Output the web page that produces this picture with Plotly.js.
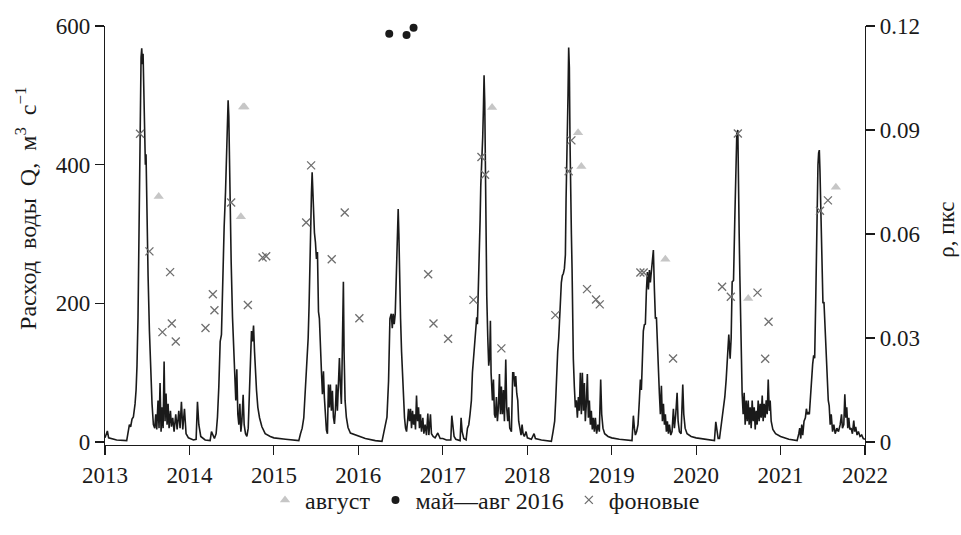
<!DOCTYPE html>
<html>
<head>
<meta charset="utf-8">
<script src="https://cdn.plot.ly/plotly-3.0.1.min.js"></script>
<style>html,body{margin:0;padding:0;background:#fff;}#chart{width:961px;height:535px;}</style>
</head>
<body>
<div id="chart"></div>
<script>
// ---- Discharge Q (m3/s): decimal year / value ----
const qYear = [
2013.000,2013.028,2013.043,2013.138,2013.257,2013.277,2013.289,2013.304,2013.320,2013.336,2013.356,2013.368,2013.379,2013.391,2013.403,2013.411,2013.419,2013.427,2013.435,2013.443,2013.451,2013.458,2013.470,2013.478,2013.486,2013.494,2013.510,2013.526,2013.542,2013.557,2013.573,2013.589,2013.601,2013.613,2013.628,2013.640,2013.652,2013.664,2013.676,2013.688,2013.700,2013.711,2013.723,2013.735,2013.747,2013.759,2013.775,2013.787,2013.802,2013.818,2013.838,2013.854,2013.874,2013.889,2013.905,2013.921,2013.941,2013.960,2013.988,
2014.047,2014.079,2014.095,2014.111,2014.134,2014.186,2014.245,2014.261,2014.277,2014.296,2014.316,2014.332,2014.348,2014.364,2014.379,2014.395,2014.411,2014.427,2014.439,2014.451,2014.458,2014.466,2014.474,2014.482,2014.494,2014.510,2014.526,2014.538,2014.549,2014.561,2014.573,2014.585,2014.597,2014.609,2014.621,2014.636,2014.648,2014.664,2014.680,2014.696,2014.711,2014.723,2014.735,2014.747,2014.759,2014.771,2014.783,2014.794,2014.810,2014.830,2014.858,2014.897,2014.957,2014.996,
2015.000,2015.138,2015.295,2015.315,2015.335,2015.354,2015.374,2015.390,2015.406,2015.417,2015.425,2015.437,2015.445,2015.453,2015.461,2015.469,2015.480,2015.492,2015.504,2015.516,2015.528,2015.539,2015.551,2015.563,2015.575,2015.587,2015.598,2015.610,2015.622,2015.634,2015.646,2015.657,2015.669,2015.681,2015.693,2015.705,2015.717,2015.728,2015.740,2015.752,2015.764,2015.776,2015.787,2015.799,2015.807,2015.815,2015.823,2015.831,2015.843,2015.858,2015.878,2015.906,2015.965,
2016.083,2016.201,2016.280,2016.299,2016.319,2016.339,2016.358,2016.374,2016.390,2016.402,2016.413,2016.425,2016.437,2016.449,2016.461,2016.472,2016.480,2016.488,2016.500,2016.512,2016.524,2016.535,2016.547,2016.559,2016.571,2016.583,2016.594,2016.606,2016.618,2016.630,2016.642,2016.654,2016.665,2016.677,2016.689,2016.701,2016.713,2016.724,2016.736,2016.748,2016.764,2016.776,2016.791,2016.807,2016.823,2016.835,2016.854,2016.866,2016.886,2016.909,2016.941,2016.969,
2017.000,2017.043,2017.095,2017.107,2017.118,2017.134,2017.154,2017.205,2017.217,2017.229,2017.249,2017.276,2017.292,2017.308,2017.323,2017.339,2017.351,2017.367,2017.379,2017.391,2017.402,2017.410,2017.418,2017.430,2017.442,2017.450,2017.462,2017.473,2017.481,2017.489,2017.497,2017.505,2017.513,2017.521,2017.533,2017.544,2017.556,2017.564,2017.572,2017.588,2017.600,2017.612,2017.623,2017.635,2017.647,2017.659,2017.671,2017.683,2017.694,2017.706,2017.718,2017.730,2017.746,2017.757,2017.769,2017.781,2017.793,2017.813,2017.828,2017.840,2017.852,2017.864,2017.876,2017.888,2017.899,2017.911,2017.927,2017.939,2017.951,2017.966,2017.986,
2018.002,2018.049,2018.081,2018.097,2018.168,2018.286,2018.306,2018.325,2018.337,2018.349,2018.361,2018.373,2018.381,2018.392,2018.404,2018.416,2018.428,2018.440,2018.452,2018.460,2018.467,2018.475,2018.483,2018.491,2018.499,2018.507,2018.515,2018.523,2018.531,2018.538,2018.546,2018.558,2018.570,2018.582,2018.594,2018.606,2018.617,2018.629,2018.641,2018.653,2018.665,2018.677,2018.688,2018.700,2018.712,2018.724,2018.736,2018.748,2018.759,2018.771,2018.783,2018.795,2018.807,2018.822,2018.838,2018.854,2018.870,2018.882,2018.897,2018.917,2018.957,
2019.000,2019.091,2019.241,2019.257,2019.269,2019.281,2019.296,2019.312,2019.328,2019.340,2019.352,2019.364,2019.375,2019.387,2019.399,2019.411,2019.423,2019.435,2019.447,2019.458,2019.470,2019.482,2019.494,2019.506,2019.518,2019.530,2019.542,2019.553,2019.565,2019.577,2019.589,2019.601,2019.613,2019.625,2019.636,2019.648,2019.660,2019.672,2019.684,2019.700,2019.715,2019.731,2019.743,2019.759,2019.775,2019.787,2019.802,2019.822,2019.842,2019.854,2019.870,2019.893,2019.941,
2020.000,2020.119,2020.217,2020.233,2020.245,2020.261,2020.277,2020.292,2020.308,2020.324,2020.340,2020.356,2020.372,2020.387,2020.403,2020.415,2020.427,2020.443,2020.458,2020.470,2020.482,2020.494,2020.502,2020.510,2020.518,2020.526,2020.534,2020.545,2020.557,2020.569,2020.581,2020.593,2020.605,2020.617,2020.628,2020.640,2020.652,2020.664,2020.676,2020.688,2020.700,2020.711,2020.723,2020.735,2020.747,2020.759,2020.771,2020.783,2020.794,2020.806,2020.818,2020.830,2020.842,2020.854,2020.866,2020.877,2020.889,2020.909,2020.941,2020.988,
2021.000,2021.098,2021.196,2021.216,2021.227,2021.239,2021.251,2021.263,2021.278,2021.294,2021.306,2021.318,2021.329,2021.341,2021.353,2021.365,2021.380,2021.392,2021.404,2021.416,2021.427,2021.435,2021.443,2021.451,2021.459,2021.467,2021.475,2021.482,2021.490,2021.502,2021.514,2021.529,2021.541,2021.553,2021.565,2021.576,2021.588,2021.600,2021.616,2021.631,2021.647,2021.667,2021.686,2021.706,2021.722,2021.733,2021.749,2021.761,2021.773,2021.784,2021.796,2021.808,2021.820,2021.835,2021.851,2021.867,2021.878,2021.890,2021.906,2021.922,2021.941,2021.961,2021.980,2022.000
];
const qValue = [
6,16,6,3,2,15,25,22,33,36,55,75,110,180,320,450,530,555,568,545,560,520,460,400,415,330,240,160,95,55,25,20,40,18,60,20,85,15,50,20,116,30,70,25,55,20,45,22,35,15,40,18,45,20,58,18,48,12,6,
3,4,58,25,8,3,2,15,10,5,12,36,80,145,155,240,310,360,430,480,493,470,400,330,260,180,130,100,60,105,40,25,55,15,30,68,25,12,8,20,70,110,160,145,168,130,90,75,50,35,22,12,8,6,
6,4,2,12,20,35,80,110,150,198,255,312,360,389,360,312,302,288,264,274,188,178,150,102,69,102,64,36,17,12,83,50,83,45,74,36,26,45,83,45,93,121,83,55,107,226,231,131,60,36,21,13,10,
5,2,1,12,25,36,88,178,185,164,185,170,185,230,290,336,300,220,178,130,93,55,35,20,15,30,48,30,48,20,45,25,40,18,67,30,50,20,40,15,35,12,25,10,41,10,40,12,8,6,13,5,
5,3,3,38,20,8,4,2,35,15,5,3,20,25,40,60,100,125,150,160,180,170,200,260,320,370,400,440,480,529,490,380,280,210,150,110,125,175,100,60,90,40,35,65,30,50,98,40,80,40,75,30,119,50,30,50,20,15,100,100,80,95,70,60,30,18,10,25,12,8,15,
6,4,12,5,3,1,15,30,60,110,131,150,175,200,230,240,243,250,270,350,420,450,500,569,540,430,330,300,250,180,120,80,50,60,35,65,45,100,40,100,45,85,30,55,98,35,60,25,45,18,35,15,35,12,25,15,90,40,20,12,8,
6,4,2,38,20,10,15,25,60,90,75,110,160,169,170,217,245,220,248,230,250,265,277,220,178,180,130,100,70,40,81,30,55,25,40,15,30,12,25,10,15,48,20,40,71,30,15,12,83,40,20,12,8,
6,4,2,29,15,5,5,20,36,45,65,90,121,155,120,150,231,233,321,417,445,450,400,300,240,170,110,70,40,71,25,60,30,60,25,50,20,60,30,50,18,45,25,60,30,55,35,67,30,55,35,60,40,90,45,60,30,18,12,8,
8,4,2,12,20,5,25,10,30,35,48,40,42,40,64,90,112,125,121,200,300,370,400,417,421,390,340,300,250,200,202,155,120,95,60,52,25,40,15,25,12,20,15,25,40,20,25,69,35,50,20,35,18,20,12,31,15,22,10,15,8,10,5,4
];

// ---- Rho (пкс) samples ----
const augYear = [2013.636,2014.609,2014.636,2014.652,2017.584,2018.602,2018.641,2019.636,2020.617,2021.655];
const augRho  = [0.0708,0.0650,0.0966,0.0966,0.0965,0.0892,0.0795,0.0527,0.0414,0.0735];

const may16Year = [2016.366,2016.571,2016.654];
const may16Rho  = [0.1178,0.1174,0.1195];

const bgYear = [2013.415,2013.526,2013.680,2013.771,2013.791,2013.838,2014.190,2014.277,2014.296,2014.494,2014.692,2014.866,2014.909,
  2015.382,2015.441,2015.685,2015.839,2016.012,2016.827,2016.890,
  2017.063,2017.363,2017.458,2017.501,2017.694,2018.333,2018.491,2018.523,2018.708,2018.815,2018.859,
  2019.340,2019.379,2019.727,2020.308,2020.411,2020.494,2020.727,2020.818,2020.858,
  2021.467,2021.561];
const bgRho  = [0.0889,0.0550,0.0317,0.0490,0.0342,0.0290,0.0329,0.0426,0.0380,0.0691,0.0395,0.0532,0.0536,
  0.0633,0.0798,0.0527,0.0662,0.0357,0.0484,0.0342,
  0.0298,0.0410,0.0822,0.0771,0.0270,0.0366,0.0781,0.0870,0.0441,0.0411,0.0397,
  0.0489,0.0489,0.0241,0.0448,0.0419,0.0890,0.0431,0.0240,0.0347,
  0.0667,0.0697];

// ---- Tick labels ----
const yearTicks = [2013,2014,2015,2016,2017,2018,2019,2020,2021,2022];
const qTicks = [0,200,400,600];
const rhoTicks = [0,0.03,0.06,0.09,0.12];
const rhoTickText = ['0','0.03','0.06','0.09','0.12'];

const seriesNames = ['август','май\u2014авг 2016','фоновые'];
const leftTitle = 'Расход\u00a0 воды\u00a0 Q,\u00a0 м<sup>3</sup>\u00a0 с<sup>\u22121</sup>';
const rightTitle = 'ρ, пкс';

const FONT = 'Liberation Serif';
const INK = '#1a1a1a';

const traces = [
  {x:qYear, y:qValue, type:'scatter', mode:'lines', line:{color:INK, width:1.6}, showlegend:false, yaxis:'y'},
  {x:augYear, y:augRho, type:'scatter', mode:'markers', name:seriesNames[0], yaxis:'y2', cliponaxis:false,
   marker:{symbol:'triangle-up', size:9, color:'#c6c6c6', line:{width:0}}},
  {x:may16Year, y:may16Rho, type:'scatter', mode:'markers', name:seriesNames[1], yaxis:'y2', cliponaxis:false,
   marker:{symbol:'circle', size:8, color:INK, line:{width:0}}},
  {x:bgYear, y:bgRho, type:'scatter', mode:'markers', name:seriesNames[2], yaxis:'y2', cliponaxis:false,
   marker:{symbol:'x-thin', size:8, color:'#6e6e6e', line:{width:1.3, color:'#6e6e6e'}}}
];

const axisCommon = {
  showline:true, linecolor:INK, linewidth:1.2, ticks:'outside', ticklen:9, tickwidth:1.2, tickcolor:INK,
  showgrid:false, zeroline:false, tickfont:{family:FONT, size:23, color:INK}
};

const layout = {
  width:961, height:535,
  margin:{l:105, r:96, t:26, b:87},
  paper_bgcolor:'#fff', plot_bgcolor:'#fff',
  font:{family:FONT, size:23, color:INK},
  xaxis:Object.assign({}, axisCommon, {range:[2013,2022], tickvals:yearTicks, ticktext:yearTicks.map(String)}),
  yaxis:Object.assign({}, axisCommon, {range:[-4.3,600], tickvals:qTicks, ticktext:qTicks.map(String)}),
  yaxis2:Object.assign({}, axisCommon, {range:[-0.00086,0.12], tickvals:rhoTicks, ticktext:rhoTickText,
    overlaying:'y', side:'right'}),
  legend:{orientation:'h', x:0.5, xanchor:'center', y:-0.132, yanchor:'middle',
    font:{family:FONT, size:24, color:INK}, itemwidth:30, tracegroupgap:0, bgcolor:'rgba(0,0,0,0)'},
  annotations:[
    {text:leftTitle, xref:'paper', yref:'paper', x:-0.105, y:0.564, xanchor:'center', yanchor:'middle',
     textangle:-90, showarrow:false, font:{family:FONT, size:24, color:INK}},
    {text:rightTitle, xref:'paper', yref:'paper', x:1.108, y:0.514, xanchor:'center', yanchor:'middle',
     textangle:-90, showarrow:false, font:{family:FONT, size:23, color:INK}}
  ]
};

Plotly.newPlot('chart', traces, layout, {staticPlot:true, displayModeBar:false});
</script>
</body>
</html>
